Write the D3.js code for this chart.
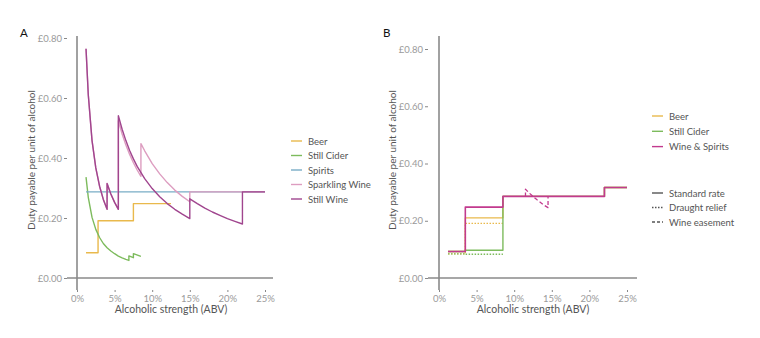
<!DOCTYPE html>
<html>
<head>
<meta charset="utf-8">
<script src="https://cdn.jsdelivr.net/npm/d3@7"></script>
<style>
  body { margin: 0; background: #fff; }
  svg text { font-family: Lato, "Open Sans", sans-serif; }
</style>
</head>
<body>
<div id="root"></div>
<script>
// ---- data (ABV %, £ per unit) ----
const yTicks = [0, 0.2, 0.4, 0.6, 0.8];
const xTicks = [0, 5, 10, 15, 20, 25];

// panel A
const beerA = [[1.2,0.084],[2.8,0.084],[2.8,0.191],[7.5,0.191],[7.5,0.248],[12.5,0.248]];
const ciderA = [[1.2,0.336],[1.5,0.269],[2,0.202],[2.5,0.162],[3,0.135],[3.5,0.115],[4,0.101],[4.5,0.090],[5,0.081],[5.5,0.073],[6,0.067],[6.5,0.062],[6.9,0.0585],[6.9,0.0735],[7.5,0.0676],[7.5,0.0814],[8.5,0.0718]];
const spiritsA = [[1.2,0.287],[25,0.287]];
const sparklingA = [[1.2,0.764],[1.5,0.611],[2,0.458],[2.5,0.367],[3,0.306],[3.5,0.262],[4,0.229],[4,0.315],[4.5,0.280],[5,0.252],[5.5,0.229],
  [5.5,0.524],[6,0.480],[6.5,0.443],[7,0.412],[7.5,0.384],[8,0.360],[8.5,0.339],
  [8.5,0.448],[9,0.424],[10,0.381],[11,0.347],[12,0.318],[13,0.293],[14,0.272],[15,0.254],[15,0.287],[25,0.287]];
const stillWineA = [[1.2,0.764],[1.5,0.611],[2,0.458],[2.5,0.367],[3,0.306],[3.5,0.262],[4,0.229],[4,0.315],[4.5,0.280],[5,0.252],[5.5,0.229],
  [5.5,0.541],[6,0.496],[6.5,0.458],[7,0.425],[7.5,0.397],[8,0.372],[9,0.331],[10,0.298],[11,0.271],[12,0.248],[13,0.229],[14,0.213],[15,0.198],
  [15,0.264],[16,0.248],[17,0.233],[18,0.220],[19,0.209],[20,0.198],[21,0.189],[22,0.180],[22,0.287],[25,0.287]];

// panel B
const beerB = [[1.2,0.0927],[3.5,0.0927],[3.5,0.2101],[8.5,0.2101],[8.5,0.285],[22,0.285],[22,0.3164],[25,0.3164]];
const beerDraughtB = [[1.2,0.0842],[3.5,0.0842],[3.5,0.1908],[8.5,0.1908]];
const ciderB = [[1.2,0.0927],[3.5,0.0927],[3.5,0.0967],[8.5,0.0967],[8.5,0.285],[22,0.285],[22,0.3164],[25,0.3164]];
const ciderDraughtB = [[1.2,0.0842],[3.5,0.0842],[3.5,0.0828],[8.5,0.0828]];
const wineSpiritsB = [[1.2,0.0927],[3.5,0.0927],[3.5,0.2477],[8.5,0.2477],[8.5,0.285],[22,0.285],[22,0.3164],[25,0.3164]];
const wineEasementB = [[11.5,0.285],[11.5,0.310],[12,0.297],[12.5,0.285],[13,0.274],[13.5,0.264],[14,0.254],[14.5,0.2457],[14.5,0.285]];

const legendA = ['Beer', 'Still Cider', 'Spirits', 'Sparkling Wine', 'Still Wine'];
const legendB = ['Beer', 'Still Cider', 'Wine & Spirits'];
const legendTypes = ['Standard rate', 'Draught relief', 'Wine easement'];

const col = {
  beer: '#e9b94c', cider: '#7dbb5d', spirits: '#79adc6',
  sparkling: '#dd9dc0', still: '#a0458e', wineSpirits: '#c23a8e'
};
const dash = { solid: null, dot: '1.5,1.5', dashed: '4,2.5' };

const svg = d3.select('#root').append('svg')
  .attr('width', 760).attr('height', 338);

function panel(opts) {
  const x = d3.scaleLinear().domain([0, 25]).range([opts.x0, opts.x25]);
  const y = d3.scaleLinear().domain([0, 0.8]).range([278, opts.y80]);
  const g = svg.append('g');

  // y axis ticks (at panel left edge)
  const yAxis = d3.axisLeft(y).tickValues(yTicks).tickSize(3).tickPadding(2)
    .tickFormat(d => '£' + d3.format('.2f')(d));
  g.append('g').attr('transform', `translate(${opts.left},0)`).call(yAxis)
    .call(a => a.select('.domain').remove())
    .call(a => a.selectAll('line').attr('stroke', '#888'))
    .call(a => a.selectAll('text').attr('fill', '#9a9a9a').style('font-size', '9.5px'));

  const xAxis = d3.axisBottom(x).tickValues(xTicks).tickSize(2).tickPadding(3)
    .tickFormat(d => d + '%');
  g.append('g').attr('transform', 'translate(0,290)').call(xAxis)
    .call(a => a.select('.domain').remove())
    .call(a => a.selectAll('line').attr('stroke', '#888'))
    .call(a => a.selectAll('text').attr('fill', '#9a9a9a').style('font-size', '9.5px'));

  // zero lines
  g.append('line').attr('x1', opts.left).attr('x2', opts.right)
    .attr('y1', y(0)).attr('y2', y(0)).attr('stroke', '#8a8a8a').attr('stroke-width', 1.6);
  g.append('line').attr('x1', x(0)).attr('x2', x(0))
    .attr('y1', 36).attr('y2', 290).attr('stroke', '#8a8a8a').attr('stroke-width', 1.6);

  // titles
  g.append('text').attr('x', (x(0) + x(25)) / 2).attr('y', 313)
    .attr('text-anchor', 'middle').attr('fill', '#555').style('font-size', '10.5px')
    .text('Alcoholic strength (ABV)');
  g.append('text').attr('transform', `translate(${opts.ytitle},160)rotate(-90)`)
    .attr('text-anchor', 'middle').attr('fill', '#555').style('font-size', '10px')
    .text('Duty payable per unit of alcohol');
  g.append('text').attr('x', opts.tagX).attr('y', 37).attr('fill', '#111')
    .style('font-size', '11.5px').text(opts.tag);

  const line = d3.line().x(d => x(d[0])).y(d => y(d[1]));
  opts.series.forEach(s => {
    g.append('path').attr('d', line(s.data)).attr('fill', 'none')
      .attr('stroke', s.color).attr('stroke-width', s.w || 1.4)
      .attr('stroke-dasharray', s.dash).attr('stroke-linejoin', 'round');
  });
}

panel({
  tag: 'A', tagX: 20, x0: 77, x25: 265, left: 67, right: 273, y80: 38, ytitle: 35,
  series: [
    { data: beerA, color: col.beer },
    { data: ciderA, color: col.cider },
    { data: spiritsA, color: col.spirits },
    { data: sparklingA, color: col.sparkling },
    { data: stillWineA, color: col.still }
  ]
});

panel({
  tag: 'B', tagX: 383, x0: 439, x25: 627, left: 428, right: 637, y80: 49, ytitle: 396,
  series: [
    { data: beerDraughtB, color: col.beer, dash: dash.dot },
    { data: ciderDraughtB, color: col.cider, dash: dash.dot },
    { data: beerB, color: col.beer },
    { data: ciderB, color: col.cider },
    { data: wineSpiritsB, color: col.wineSpirits, w: 1.6 },
    { data: wineEasementB, color: col.wineSpirits, dash: dash.dashed, w: 1.3 }
  ]
});

// legends
function legend(x, y0, step, labels, colors, dashes) {
  const g = svg.append('g');
  labels.forEach((l, i) => {
    const yy = y0 + i * step;
    g.append('line').attr('x1', x).attr('x2', x + 11).attr('y1', yy).attr('y2', yy)
      .attr('stroke', colors[i]).attr('stroke-width', 1.4)
      .attr('stroke-dasharray', dashes ? dashes[i] : null);
    g.append('text').attr('x', x + 17).attr('y', yy + 3.5).attr('fill', '#555')
      .style('font-size', '9.5px').text(l);
  });
}
legend(291, 141, 14.5, legendA, [col.beer, col.cider, col.spirits, col.sparkling, col.still]);
legend(652, 116, 15.3, legendB, [col.beer, col.cider, col.wineSpirits]);
legend(652, 193, 14.5, legendTypes, ['#555', '#555', '#555'], [null, dash.dot, '3,2']);
</script>
</body>
</html>
